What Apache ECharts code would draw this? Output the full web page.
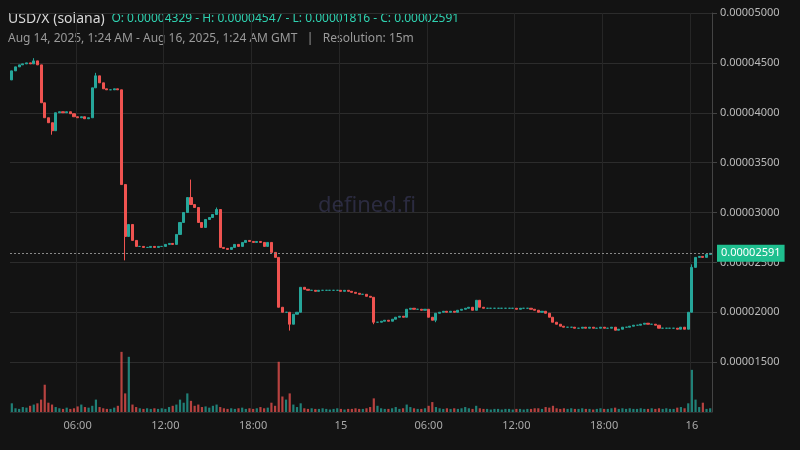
<!DOCTYPE html><html><head><meta charset="utf-8">
<script src="https://cdn.jsdelivr.net/npm/echarts@6/dist/echarts.min.js"></script>
<style>html,body{margin:0;background:#131313}#c{width:800px;height:450px}</style></head><body><div id="c"></div>
<script>
// prices in units of 1e-8
const firstOpen = 4329;
const closes = [
4420,4460,4480,4490,4500,4490,4520,4480,
4100,3950,3900,3820,4000,4010,4000,4010,
3990,3960,3950,3960,3940,3950,4250,4370,
4300,4240,4230,4230,4240,4230,3280,2760,
2880,2720,2660,2660,2650,2650,2660,2650,
2660,2660,2680,2690,2680,2780,2900,3000,
3150,3080,3050,2900,2850,2930,2950,2980,
3030,2650,2640,2630,2650,2680,2660,2700,
2720,2710,2700,2710,2700,2660,2700,2600,
2550,2050,2000,2000,1880,1980,2000,2250,
2230,2220,2220,2210,2220,2220,2220,2220,
2220,2220,2210,2220,2210,2200,2190,2180,
2180,2160,2150,1900,1900,1910,1920,1910,
1930,1950,1960,1950,2030,2040,2030,2030,
2020,2030,1950,1920,1990,2000,2010,2000,
2010,2000,2020,2030,2040,2050,2020,2120,
2050,2040,2040,2040,2040,2040,2040,2040,
2040,2040,2030,2040,2040,2040,2030,2020,
2000,2010,1990,1950,1900,1880,1860,1850,
1850,1850,1840,1840,1850,1840,1850,1840,
1840,1850,1840,1840,1850,1820,1830,1850,
1850,1860,1870,1870,1880,1890,1880,1880,
1870,1840,1840,1840,1840,1840,1830,1850,
1830,2000,2450,2550,2560,2550,2580,2591];
const wickHigh = {6:4547,23:4400,31:2950,49:3330,56:3050,186:2480};
const wickLow = {31:2520,76:1816,11:3780,99:1880,116:1900};
const volumes = [
14,6,5,8,7,10,12,14,
20,44,15,12,8,6,5,7,
5,6,9,12,8,7,10,20,
8,6,5,5,7,10,97,30,
89,12,8,6,5,6,5,6,
5,6,5,8,10,12,20,15,
30,18,10,12,8,9,7,10,
12,8,6,5,6,5,6,7,
5,6,5,6,8,6,7,15,
10,81,25,20,30,12,8,14,
6,5,6,5,5,6,5,4,
5,6,5,4,5,5,6,5,
5,6,8,22,10,6,5,5,
6,8,5,6,12,8,6,5,
5,6,10,16,8,6,5,6,
5,6,5,6,8,6,5,10,
6,5,5,4,5,5,4,5,
5,4,5,5,4,5,5,6,
6,5,8,7,10,6,5,6,
5,6,5,5,6,5,5,4,
5,6,5,5,6,7,5,6,
5,6,5,5,6,5,5,6,
5,6,5,6,5,5,7,8,
6,14,68,20,8,15,5,6];
const tickLabels = ["06:00","12:00","18:00","15","06:00","12:00","18:00","16"];

const start = Date.UTC(2025,7,14,1,30);
const cats = [], candles = [], volData = [];
let prev = firstOpen;
closes.forEach((c,i)=>{
  const t = new Date(start + i*15*60000);
  const h=t.getUTCHours(), m=t.getUTCMinutes();
  cats.push(h===0&&m===0 ? String(t.getUTCDate()) : (String(h).padStart(2,'0')+':'+String(m).padStart(2,'0')));
  const o=prev;
  const hi = wickHigh[i] ?? Math.max(o,c), lo = wickLow[i] ?? Math.min(o,c);
  candles.push([o,c,lo,hi]);
  volData.push({value:volumes[i], itemStyle:{color: c>=o ? 'rgba(38,166,154,0.75)':'rgba(239,83,80,0.75)'}});
  prev=c;
});
const tickSet = new Set(tickLabels);
const showIdx = i => { const s=cats[i]; return ['06:00','12:00','18:00'].includes(s) || /^\d+$/.test(s); };
const fmt = v => (v/1e8).toFixed(8);
const last = closes[closes.length-1];
const chart = echarts.init(document.getElementById('c'));
chart.setOption({
  backgroundColor:'#131313',
  animation:false,
  title:[{text:'defined.fi',left:362,top:190,textAlign:'center',textStyle:{color:'rgba(90,90,150,0.35)',fontSize:22,fontWeight:'normal',fontFamily:'Noto Sans'}}],
  graphic:[
    {type:'rect',left:0,top:8,shape:{width:708,height:46},style:{fill:'rgba(19,19,19,0.0)'}},
    {type:'text',left:8,top:12,style:{rich:{a:{fill:'#d8d8d8',fontSize:14,fontFamily:'Noto Sans'},b:{fill:'#2fd1b0',fontSize:12,fontFamily:'Noto Sans'}},text:'{a|USD/X (solana)}  {b|O: 0.00004329 - H: 0.00004547 - L: 0.00001816 - C: 0.00002591}'}},
    {type:'text',left:8,top:33,style:{fill:'#9a9a9a',fontSize:12,fontFamily:'Noto Sans',text:'Aug 14, 2025, 1:24 AM - Aug 16, 2025, 1:24 AM GMT   |   Resolution: 15m'}}
  ],
  grid:[{left:10,right:88,top:13,bottom:38},{left:10,right:88,top:350,bottom:38}],
  xAxis:[
    {type:'category',data:cats,gridIndex:0,boundaryGap:true,axisLine:{show:false},axisTick:{show:false},
     axisLabel:{interval:(i)=>showIdx(i),color:'#aaa',fontSize:11,fontFamily:'Noto Sans',formatter:v=>tickSet.has(v)?v:''},
     splitLine:{show:true,interval:(i)=>showIdx(i),lineStyle:{color:'#262626'}}},
    {type:'category',data:cats,gridIndex:1,show:false}
  ],
  yAxis:[
    {type:'value',gridIndex:0,position:'right',min:1000,max:5000,interval:500,
     axisLine:{show:true,lineStyle:{color:'#444'}},axisTick:{show:true,lineStyle:{color:'#444'}},
     axisLabel:{color:'#bbb',fontSize:11,fontFamily:'Noto Sans',formatter:fmt,showMinLabel:false},
     splitLine:{lineStyle:{color:'#2c2c2c'}}},
    {type:'value',gridIndex:1,min:0,max:100,show:false}
  ],
  series:[
    {type:'candlestick',data:candles,xAxisIndex:0,yAxisIndex:0,barWidth:'70%',
     itemStyle:{color:'#26a69a',color0:'#ef5350',borderColor:'#26a69a',borderColor0:'#ef5350'},
     markLine:{symbol:'none',silent:true,data:[{yAxis:last}],
       lineStyle:{color:'#888',type:[2,2],width:1},
       label:{position:'end',formatter:()=>fmt(last),backgroundColor:'#1fbf8f',color:'#fff',padding:[3,4],fontSize:11,fontFamily:'Noto Sans'}}},
    {type:'bar',data:volData,xAxisIndex:1,yAxisIndex:1,barWidth:'60%'}
  ]
});
</script></body></html>
